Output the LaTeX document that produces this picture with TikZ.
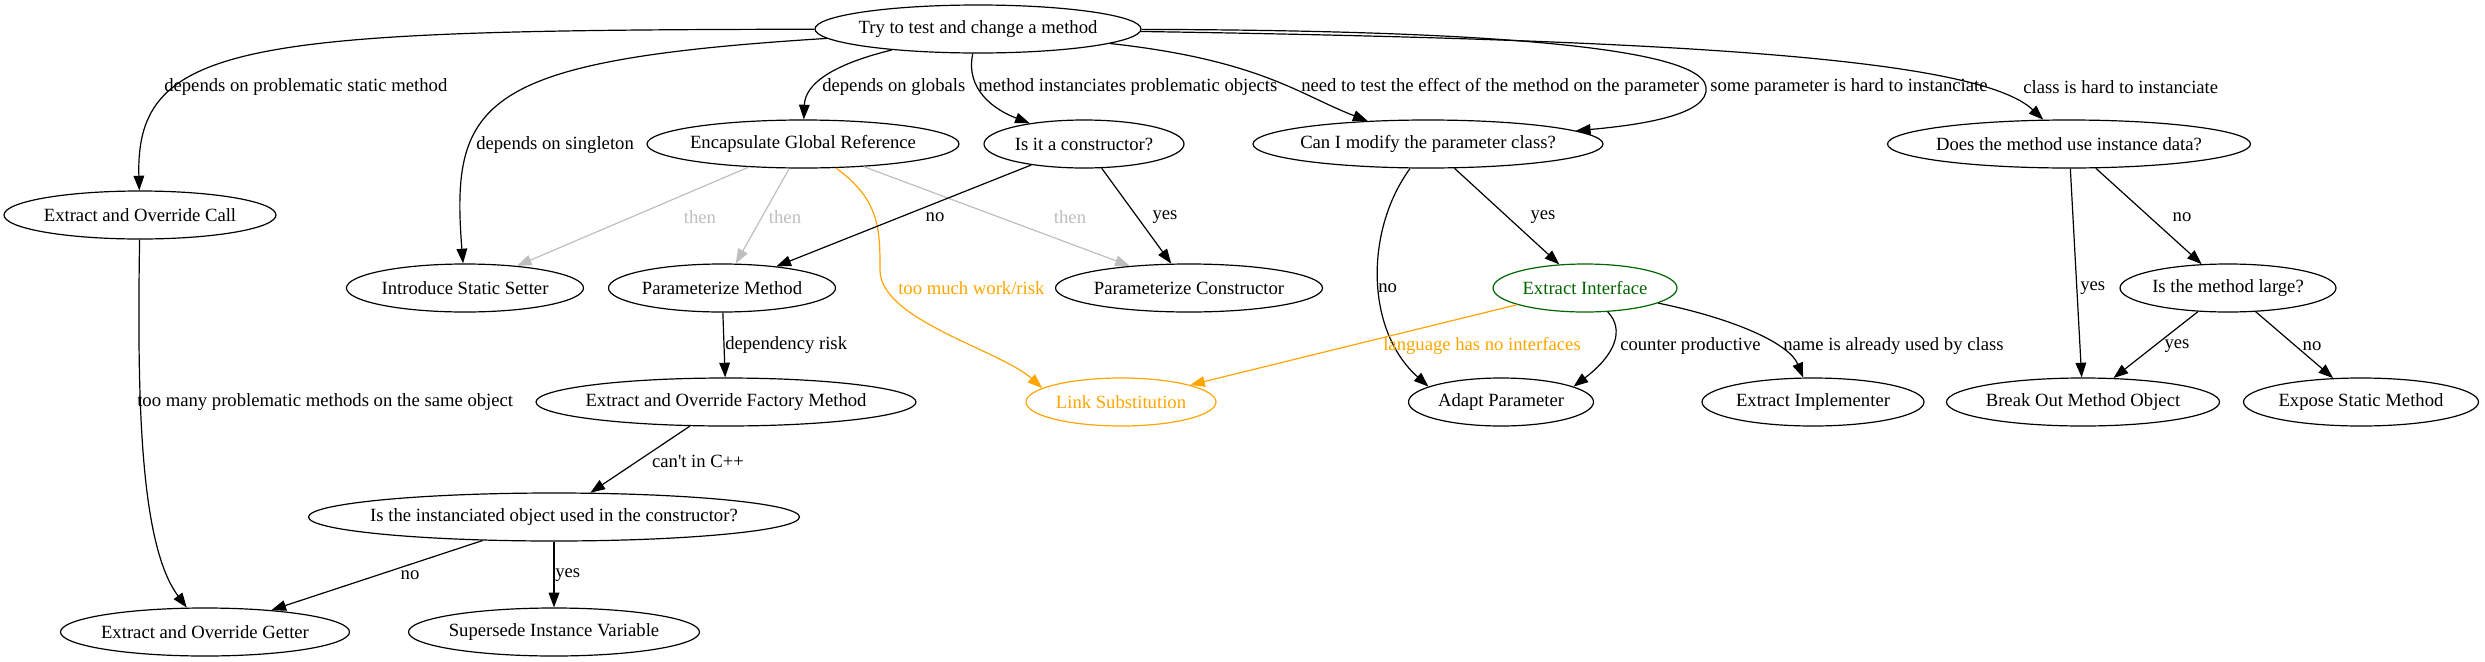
\documentclass[tikz,border=0pt]{standalone}
\usepackage{fontspec}
\setmainfont{Liberation Serif}
\usepackage{xcolor}
\usepackage{tikz}
\usetikzlibrary{arrows.meta, shapes.geometric}

\definecolor{thengray}{HTML}{BEBEBE}
\definecolor{riskorange}{HTML}{FFA500}
\definecolor{ifgreen}{HTML}{006400}

\begin{document}
\begin{tikzpicture}[
  x=0.75pt,
  y=-0.75pt,
  box/.style={
    ellipse,
    draw,
    line width=0.9pt,
    inner xsep=-40pt,
    inner ysep=2pt,
    minimum height=36pt,
    font=\fontsize{14}{16}\selectfont
  },
  wd/.style={
    minimum width=#1*0.75pt
  },
  greenbox/.style={
    box,
    draw=ifgreen,
    text=ifgreen
  },
  orangebox/.style={
    box,
    draw=riskorange,
    text=riskorange
  },
  note/.style={
    inner sep=0pt,
    font=\fontsize{14}{16}\selectfont
  },
  arrow/.style={
    -{Triangle[length=11pt, width=8pt]},
    line width=0.9pt
  },
  thenarrow/.style={
    arrow,
    draw=thengray
  },
  riskarrow/.style={
    arrow,
    draw=riskorange
  }
]
\useasboundingbox (0,0) rectangle (2485,661);

% Top question
\node[box, wd=326] (start) at (978,29) {Try to test and change a method};

% Second row
\node[box, wd=312] (encap) at (803,144) {Encapsulate Global Reference};
\node[box, wd=200] (isctor) at (1084,144) {Is it a constructor?};
\node[box, wd=350] (canmod) at (1428,144) {Can I modify the parameter class?};
\node[box, wd=363] (instdata) at (2069,144) {Does the method use instance data?};
\node[box, wd=272] (eocall) at (140,215) {Extract and Override Call};

% Third row
\node[box, wd=237] (setter) at (465,288) {Introduce Static Setter};
\node[box, wd=227] (parmeth) at (722,288) {Parameterize Method};
\node[box, wd=267] (parctor) at (1189,288) {Parameterize Constructor};
\node[greenbox, wd=184] (extint) at (1585,288) {Extract Interface};
\node[box, wd=216] (islarge) at (2228,288) {Is the method large?};

% Fourth row
\node[box, wd=380] (factory) at (726,402) {Extract and Override Factory Method};
\node[orangebox, wd=190] (linksub) at (1121,402) {Link Substitution};
\node[box, wd=185] (adapt) at (1501,402) {Adapt Parameter};
\node[box, wd=222] (extimpl) at (1813,402) {Extract Implementer};
\node[box, wd=273] (breakout) at (2083,402) {Break Out Method Object};
\node[box, wd=235] (exposestatic) at (2361,402) {Expose Static Method};

% Bottom rows
\node[box, wd=491] (usedctor) at (554,517) {Is the instanciated object used in the constructor?};
\node[box, wd=289] (getter) at (205,632) {Extract and Override Getter};
\node[box, wd=291] (supersede) at (554,632) {Supersede Instance Variable};

% Edges out of the top question
\draw[arrow] (start) .. controls (250,30) and (135,40) .. (eocall);
\draw[arrow] (start) .. controls (480,60) and (450,100) .. (setter);
\draw[arrow] (start) .. controls (830,65) and (805,85) .. (encap);
\draw[arrow] (start) .. controls (965,90) and (995,110) .. (isctor);
\draw[arrow] (start) .. controls (1260,60) and (1300,95) .. (canmod);
\draw[arrow] (start) .. controls (1400,30) and (1700,40) .. (1706,87)
  .. controls (1710,115) and (1640,125) .. (canmod);
\draw[arrow] (start) .. controls (1700,40) and (1980,60) .. (instdata);

\node[note, anchor=west] (lstatic) at (164,87) {depends on problematic static method};
\node[note, anchor=west] (lsingleton) at (476,145) {depends on singleton};
\node[note, anchor=west] (lglobals) at (822,87) {depends on globals};
\node[note, anchor=west] (lobjects) at (978,87) {method instanciates problematic objects};
\node[note, anchor=west] (leffect) at (1301,87) {need to test the effect of the method on the parameter};
\node[note, anchor=west] (lparam) at (1710,87) {some parameter is hard to instanciate};
\node[note, anchor=west] (lclass) at (2023,87) {class is hard to instanciate};

% Encapsulate Global Reference
\draw[thenarrow] (encap) -- (setter);
\draw[thenarrow] (encap) -- (parmeth);
\draw[thenarrow] (encap) -- (parctor);
\node[note, text=thengray] (lthena) at (700,217) {then};
\node[note, text=thengray] (lthenb) at (785,217) {then};
\node[note, text=thengray] (lthenc) at (1070,217) {then};

\draw[riskarrow] (encap) .. controls (880,200) and (880,230) .. (880,270)
  .. controls (880,320) and (1000,350) .. (linksub.170);
\node[note, anchor=west, text=riskorange] (lrisk) at (898,288) {too much work/risk};

% Is it a constructor?
\draw[arrow] (isctor) -- (parmeth);
\draw[arrow] (isctor) -- (parctor);
\node[note] (lctorno) at (935,217) {no};
\node[note] (lctoryes) at (1165,217) {yes};

% Can I modify the parameter class?
\draw[arrow] (canmod) .. controls (1365,230) and (1365,330) .. (adapt.168);
\draw[arrow] (canmod) -- (extint);
\node[note, anchor=west] (lmodno) at (1378,288) {no};
\node[note] (lmodyes) at (1543,217) {yes};

% Extract Interface
\draw[riskarrow] (extint) -- (linksub);
\draw[arrow] (extint) .. controls (1625,330) and (1615,355) .. (adapt.12);
\draw[arrow] (extint) .. controls (1740,320) and (1790,345) .. (extimpl);
\node[note, anchor=west, text=riskorange] (lnoiface) at (1383,346) {language has no interfaces};
\node[note, anchor=west] (lcounter) at (1620,346) {counter productive};
\node[note, anchor=west] (lname) at (1783,346) {name is already used by class};

% Instance data branch
\draw[arrow] (instdata) -- (breakout);
\draw[arrow] (instdata) -- (islarge);
\draw[arrow] (islarge) -- (breakout);
\draw[arrow] (islarge) -- (exposestatic);
\node[note, anchor=west] (ldatayes) at (2080,288) {yes};
\node[note] (ldatano) at (2182,217) {no};
\node[note] (llargeyes) at (2177,346) {yes};
\node[note] (llargeno) at (2312,346) {no};

% Factory method chain
\draw[arrow] (parmeth) -- (factory);
\draw[arrow] (factory) -- (usedctor);
\draw[arrow] (usedctor) -- (getter);
\draw[arrow] (usedctor) -- (supersede);
\node[note, anchor=west] (ldep) at (725,345) {dependency risk};
\node[note] (lcpp) at (698,461) {can\textquotesingle t in C++};
\node[note] (lusedno) at (410,575) {no};
\node[note, anchor=west] (lusedyes) at (555,575) {yes};

% Left column
\draw[arrow] (eocall) .. controls (137,400) and (140,545) .. (getter);
\node[note, anchor=west] (lmany) at (137,402) {too many problematic methods on the same object};

\end{tikzpicture}
\end{document}
